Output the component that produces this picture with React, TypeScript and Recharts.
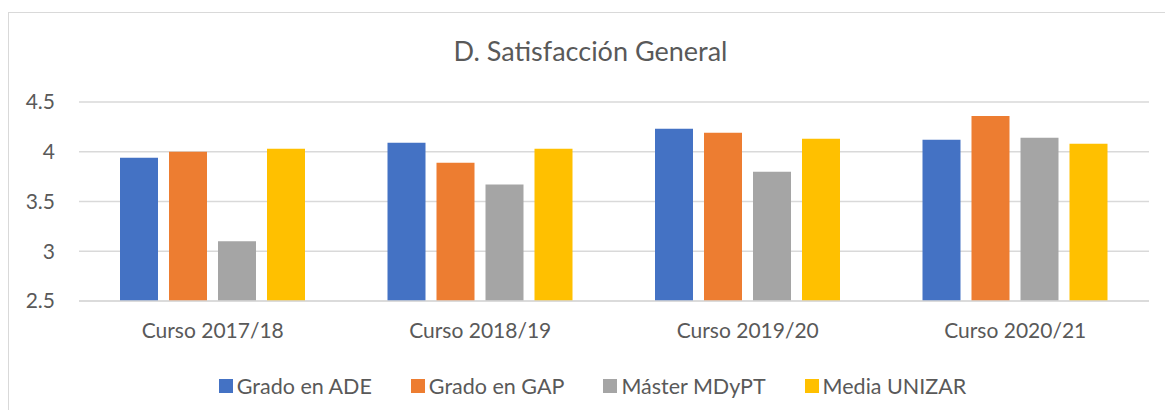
import React from "react";
import { BarChart, Bar, XAxis, YAxis, CartesianGrid, Legend } from "recharts";

const categories = ["Curso 2017/18", "Curso 2018/19", "Curso 2019/20", "Curso 2020/21"];
const gradoADE = [3.94, 4.09, 4.23, 4.12];
const gradoGAP = [4.0, 3.89, 4.19, 4.36];
const masterMDyPT = [3.1, 3.67, 3.8, 4.14];
const mediaUNIZAR = [4.03, 4.03, 4.13, 4.08];
const yTicks = [2.5, 3, 3.5, 4, 4.5];

const seriesNames = ["Grado en ADE", "Grado en GAP", "Máster MDyPT", "Media UNIZAR"];
const seriesColors = ["#4472C4", "#ED7D31", "#A5A5A5", "#FFC000"];

const data = categories.map((c, i) => ({
  name: c,
  ade: gradoADE[i],
  gap: gradoGAP[i],
  mdypt: masterMDyPT[i],
  unizar: mediaUNIZAR[i],
}));

const keys = ["ade", "gap", "mdypt", "unizar"];
const FONT = "Lato, 'Open Sans', sans-serif";
const TEXT = "#595959";

const LegendContent = (props: any) => {
  const payload = [...(props.payload || [])].sort(
    (a: any, b: any) => seriesNames.indexOf(a.value) - seriesNames.indexOf(b.value)
  );
  return (
    <div
      style={{
        display: "flex",
        justifyContent: "center",
        alignItems: "center",
        height: 26,
        fontFamily: FONT,
        fontSize: 21.5,
        color: TEXT,
        paddingLeft: 4,
      }}
    >
      {payload.map((p: any, i: number) => (
        <div
          key={i}
          style={{ display: "flex", alignItems: "center", marginRight: i < payload.length - 1 ? 39 : 0 }}
        >
          <span
            style={{ display: "inline-block", width: 14, height: 14, background: p.color, marginRight: 4 }}
          />
          <span style={{ lineHeight: "26px" }}>{p.value}</span>
        </div>
      ))}
    </div>
  );
};

export default function App() {
  return (
    <div style={{ position: "relative", top: 4, width: 1165, height: 402 }}>
      <div
        style={{
          position: "absolute",
          left: 0,
          top: 0,
          width: 1165,
          height: 402,
          boxSizing: "border-box",
          borderLeft: "1.5px solid #d9d9d9",
          borderTop: "1.5px solid #d9d9d9",
        }}
      />
      <div
        style={{
          position: "absolute",
          left: 0,
          top: 25,
          width: 1165,
          textAlign: "center",
          fontFamily: FONT,
          fontSize: 27,
          lineHeight: "27px",
          color: TEXT,
        }}
      >
        D. Satisfacción General
      </div>
      <div style={{ position: "absolute", left: 0, top: 0 }}>
        <BarChart
          width={1165}
          height={402}
          data={data}
          margin={{ top: 90, right: 24, bottom: 47, left: 0 }}
          barSize={38}
          barGap={11}
        >
          <CartesianGrid vertical={false} stroke="#d9d9d9" strokeWidth={1.3} />
          <XAxis
            dataKey="name"
            axisLine={{ stroke: "#d9d9d9", strokeWidth: 1.3 }}
            tickLine={false}
            tickSize={0}
            tickMargin={22}
            height={40}
            tick={{ fill: TEXT, fontSize: 21, fontFamily: FONT }}
            interval={0}
          />
          <YAxis
            domain={[2.5, 4.5]}
            ticks={yTicks}
            axisLine={false}
            tickLine={false}
            tickSize={0}
            tickMargin={24}
            width={71}
            tick={{ fill: TEXT, fontSize: 21, fontFamily: FONT }}
            interval={0}
          />
          <Legend
            verticalAlign="bottom"
            itemSorter={null as any}
            content={<LegendContent />}
            wrapperStyle={{ top: 361, bottom: "auto", left: 0, width: 1165, height: 26 }}
          />
          {keys.map((k, i) => (
            <Bar key={k} dataKey={k} name={seriesNames[i]} fill={seriesColors[i]} isAnimationActive={false} />
          ))}
        </BarChart>
      </div>
    </div>
  );
}
